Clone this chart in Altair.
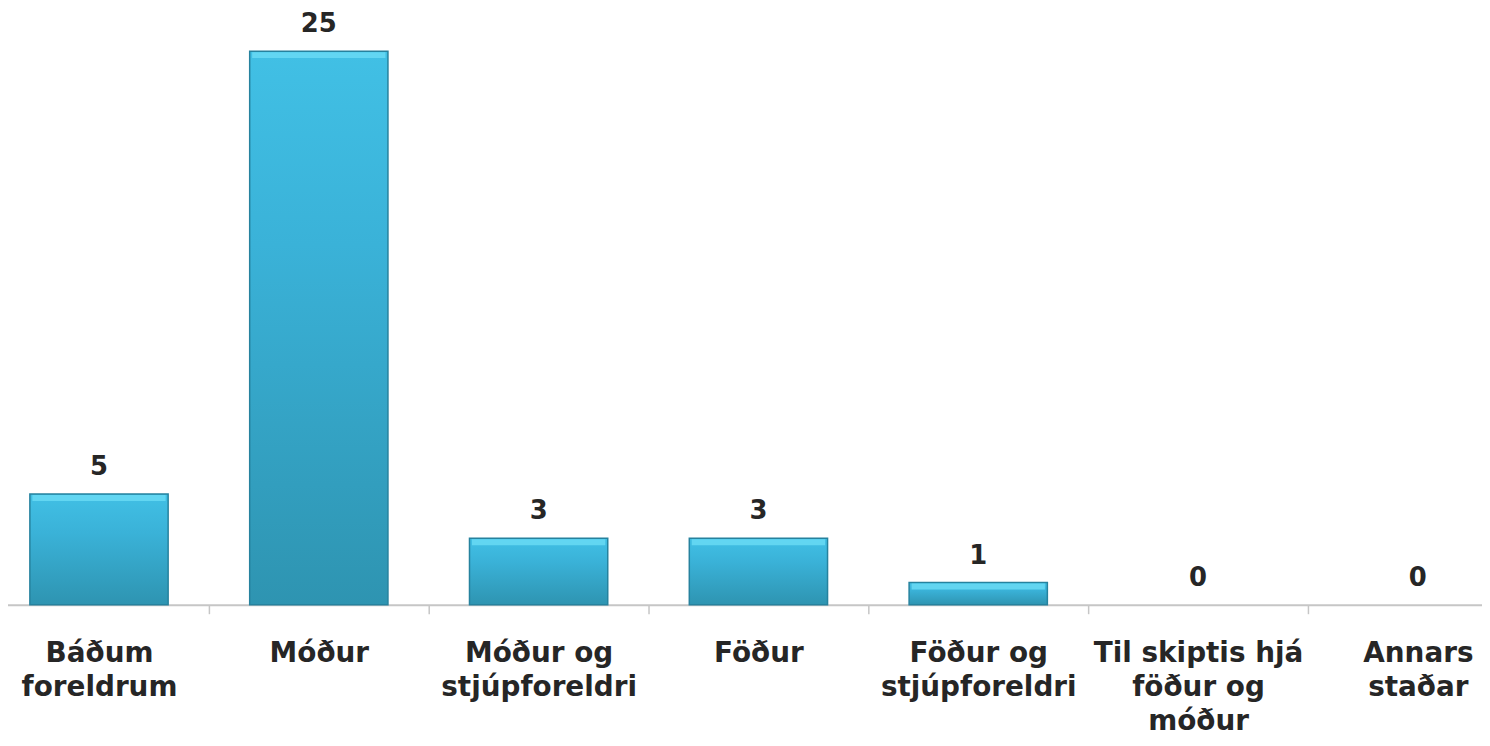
import altair as alt
import pandas as pd

categories = ["Báðum\nforeldrum", "Móður", "Móður og\nstjúpforeldri", "Föður",
              "Föður og\nstjúpforeldri", "Til skiptis hjá\nföður og\nmóður", "Annars\nstaðar"]
values = [5, 25, 3, 3, 1, 0, 0]

df = pd.DataFrame({"cat": categories, "val": values})

STEP = 221
xscale = alt.Scale(range=[-19, 1528], paddingInner=0.371, paddingOuter=0.1855)
yscale = alt.Scale(domain=[0, 26.5], nice=False)

FONT = "DejaVu Sans"

x = alt.X("cat:N", sort=None, scale=xscale, title=None,
          axis=alt.Axis(labelAngle=0, domain=True, domainColor="#C6C6C6", domainWidth=2,
                        ticks=True, tickOffset=STEP / 2, labelOffset=-STEP / 2,
                        tickColor="#C6C6C6", tickSize=9, tickWidth=1.5,
                        labelExpr="split(datum.label, '\\n')",
                        labelFont=FONT, labelFontWeight="bold", labelFontSize=28,
                        labelColor="#262626", labelLineHeight=34, labelPadding=40,
                        labelBaseline="middle", labelOverlap=False, labelLimit=0))
y = alt.Y("val:Q", scale=yscale, axis=None)

base = alt.Chart(df)

bars = base.transform_filter("datum.val > 0").mark_bar(
    color=alt.Gradient(gradient="linear", x1=0, y1=0, x2=0, y2=1,
                       stops=[alt.GradientStop(color="#41C0E5", offset=0),
                              alt.GradientStop(color="#3AB2D8", offset=0.35),
                              alt.GradientStop(color="#2E94B1", offset=1)]),
    stroke="#26829E", strokeWidth=1.5
).encode(x=x, y=y)

highlight = base.transform_filter("datum.val > 0").mark_tick(
    color="#66D8F3", thickness=6, size=134, yOffset=4, opacity=0.9
).encode(x=x, y=y)

labels = base.mark_text(
    dy=-27, font=FONT, fontWeight="bold", fontSize=26, color="#262626", baseline="middle"
).encode(x=x, y=y, text="val:Q")

chart = alt.layer(bars, highlight, labels).properties(
    width=1482, height=590,
    padding={"left": 0, "top": 8, "right": 0, "bottom": 132},
    autosize=alt.AutoSizeParams(type="none")
).configure_view(stroke=None)

chart.save("out.html", embed_options={"renderer": "svg", "actions": False})
